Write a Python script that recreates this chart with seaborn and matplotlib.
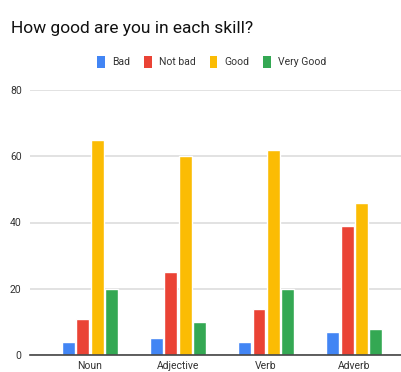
import matplotlib
matplotlib.use("Agg")
import matplotlib.pyplot as plt
import seaborn as sns
import pandas as pd

skills = ["Noun", "Adjective", "Verb", "Adverb"]
levels = ["Bad", "Not bad", "Good", "Very Good"]
bad = [4, 5, 4, 7]
not_bad = [11, 25, 14, 39]
good = [65, 60, 62, 46]
very_good = [20, 10, 20, 8]
y_ticks = [0, 20, 40, 60, 80]

colors = ["#4285F4", "#EA4335", "#FBBC04", "#34A853"]

rows = []
for level, vals in zip(levels, [bad, not_bad, good, very_good]):
    for skill, v in zip(skills, vals):
        rows.append({"Skill": skill, "Level": level, "Count": v})
df = pd.DataFrame(rows)

sns.set_theme(style="white")
plt.rcParams["font.family"] = ["Roboto", "DejaVu Sans"]

fig = plt.figure(figsize=(4.01, 3.72), dpi=100)
ax = fig.add_axes([30 / 401, 1 - 355 / 372, 1 - 30 / 401, (355 - 90) / 372])

sns.barplot(data=df, x="Skill", y="Count", hue="Level", order=skills,
            hue_order=levels, palette=colors, width=0.65, gap=0.1,
            saturation=1, errorbar=None, ax=ax, legend=False, zorder=3)

ax.set_ylim(0, 80)
ax.set_xlim(-0.68, 3.53)
ax.set_yticks(y_ticks)
ax.set_yticklabels([str(t) for t in y_ticks])
ax.yaxis.grid(True, color="#dddddd", linewidth=1.2, zorder=0)
ax.set_axisbelow(True)
for s in ["top", "right", "left"]:
    ax.spines[s].set_visible(False)
ax.spines["bottom"].set_color("#444444")
ax.spines["bottom"].set_linewidth(1.2)
ax.spines["bottom"].set_zorder(4)
ax.tick_params(axis="both", length=0, labelsize=7.5, labelcolor="#333333")
ax.tick_params(axis="x", pad=4)
ax.tick_params(axis="y", pad=6)
ax.set_xlabel("")
ax.set_ylabel("")

fig.text(11 / 401, 1 - 29 / 372, "How good are you in each skill?",
         fontsize=12.5, color="#111111", va="center", ha="left")

handles = [plt.Rectangle((0, 0), 1, 1, facecolor=c, edgecolor="none") for c in colors]
fig.legend(handles, levels, loc="center", bbox_to_anchor=(212 / 401, 1 - 62 / 372),
           ncol=4, frameon=False, fontsize=7.5, handlelength=0.75,
           handleheight=1.4, handletextpad=0.7, columnspacing=1.3,
           labelcolor="#333333")

fig.savefig("out.png", dpi=100)
